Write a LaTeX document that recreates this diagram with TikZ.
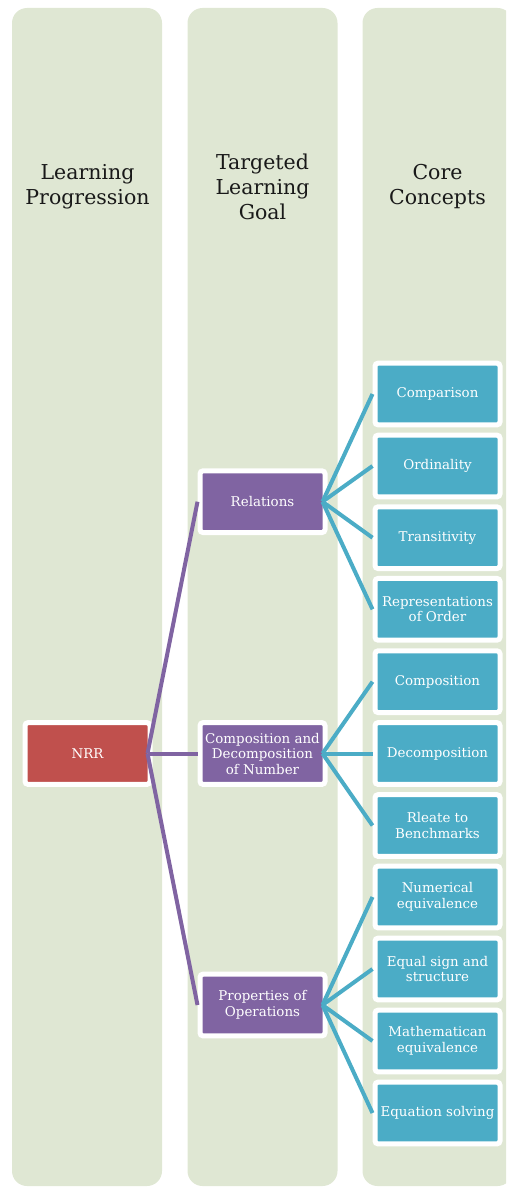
\documentclass[tikz,border=0pt]{standalone}
\usepackage{fontspec}
\setmainfont{DejaVu Serif}
\definecolor{colfill}{RGB}{223,231,211}
\definecolor{nrrred}{RGB}{192,80,77}
\definecolor{goalpurple}{RGB}{128,100,162}
\definecolor{coreblue}{RGB}{75,172,198}
\tikzset{
  column/.style={fill=colfill, rounded corners=15pt},
  heading/.style={align=center, text=black!90, font=\fontsize{20.5}{25}\selectfont},
  box/.style={draw=white, line width=5pt, rounded corners=3pt, minimum width=125pt,
    minimum height=61.7pt, inner sep=1pt, align=center, text=white,
    font=\fontsize{13.4}{15.5}\selectfont},
  lpbox/.style={box, fill=nrrred},
  goalbox/.style={box, fill=goalpurple},
  corebox/.style={box, fill=coreblue},
  goallink/.style={goalpurple, line width=4pt},
  corelink/.style={coreblue, line width=4pt}
}
\begin{document}
\begin{tikzpicture}[x=1pt, y=-1pt]
  \useasboundingbox (0,0) rectangle (506,1188);
  \clip (0,0) rectangle (506,1188);

  % Columns
  \fill[column] (12,8) rectangle (162,1186);
  \fill[column] (187.5,8) rectangle (337.5,1186);
  \fill[column] (362.5,8) rectangle (512.5,1186);

  \node[heading] (hlp) at (87.5,187) {Learning\\Progression};
  \node[heading] (hgoal) at (262.5,187) {Targeted\\Learning\\Goal};
  \node[heading] (hcore) at (437.5,187) {Core\\Concepts};

  % Boxes
  \node[lpbox] (nrr) at (87.5,753.5) {NRR};

  \node[goalbox] (rel) at (262.5,501.7) {Relations};
  \node[goalbox] (cdn) at (262.5,753.5) {Composition and\\Decomposition\\of Number};
  \node[goalbox] (pop) at (262.5,1005) {Properties of\\Operations};

  \node[corebox] (cmp) at (437.5,394) {Comparison};
  \node[corebox] (ord) at (437.5,466) {Ordinality};
  \node[corebox] (tra) at (437.5,537.7) {Transitivity};
  \node[corebox] (rep) at (437.5,609.3) {Representations\\of Order};
  \node[corebox] (com) at (437.5,681.7) {Composition};
  \node[corebox] (dec) at (437.5,753.5) {Decomposition};
  \node[corebox] (ben) at (437.5,825.5) {Rleate to\\Benchmarks};
  \node[corebox] (neq) at (437.5,897) {Numerical\\equivalence};
  \node[corebox] (eqs) at (437.5,969) {Equal sign and\\structure};
  \node[corebox] (meq) at (437.5,1041) {Mathematican\\equivalence};
  \node[corebox] (eqn) at (437.5,1113) {Equation solving};

  % Links
  \foreach \g in {rel,cdn,pop}
    \draw[goallink] ([xshift=-5pt]nrr.east) -- (\g.west);
  \foreach \c in {cmp,ord,tra,rep}
    \draw[corelink] ([xshift=-5pt]rel.east) -- (\c.west);
  \foreach \c in {com,dec,ben}
    \draw[corelink] ([xshift=-5pt]cdn.east) -- (\c.west);
  \foreach \c in {neq,eqs,meq,eqn}
    \draw[corelink] ([xshift=-5pt]pop.east) -- (\c.west);
\end{tikzpicture}
\end{document}
